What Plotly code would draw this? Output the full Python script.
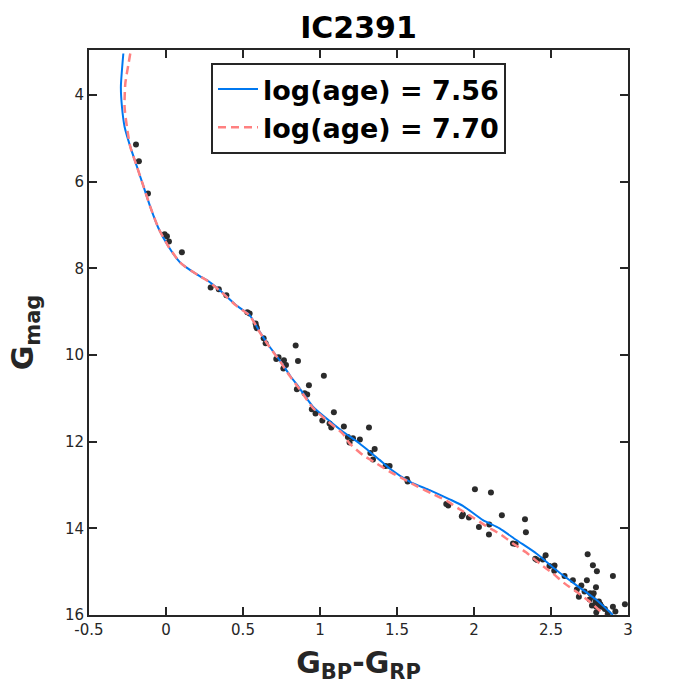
import plotly.graph_objects as go

# Observed stars (colour, G magnitude)
star_color = [-0.195, -0.176, -0.117, -0.009, 0.006, 0.019, 0.103,
              0.29, 0.343, 0.392, 0.528, 0.543, 0.582, 0.59, 0.586, 0.634, 0.647,
              0.842, 0.857, 0.716, 0.731, 0.766, 0.779, 0.762, 1.025, 0.928, 0.85,
              0.9, 0.917, 0.947, 0.971, 1.09, 1.015, 1.062, 1.073, 1.155, 1.318,
              1.181, 1.214, 1.192, 1.259, 1.355, 1.327, 1.344,
              1.426, 1.452, 1.564, 1.569, 1.833, 1.82, 2.006, 2.11, 1.921, 1.928,
              1.967, 2.181, 2.032, 2.099, 2.097, 2.331, 2.337, 2.253, 2.27, 2.398,
              2.41, 2.465, 2.447, 2.49, 2.523, 2.521, 2.588, 2.642, 2.738, 2.772,
              2.798, 2.733, 2.792, 2.902, 2.668, 2.681, 2.697, 2.718, 2.755, 2.777,
              2.769, 2.751, 2.79, 2.811, 2.82, 2.794, 2.829, 2.766, 2.794, 2.869,
              2.902, 2.918, 2.98, 2.85]
star_mag = [5.14, 5.53, 6.27, 7.21, 7.26, 7.38, 7.63,
            8.44, 8.48, 8.62, 9.01, 9.04, 9.27, 9.38, 9.34, 9.61, 9.73,
            9.78, 10.14, 10.09, 10.05, 10.12, 10.23, 10.31, 10.48, 10.70, 10.79,
            10.88, 10.91, 11.25, 11.35, 11.32, 11.51, 11.58, 11.67, 11.65, 11.67,
            11.89, 11.92, 12.02, 11.95, 12.17, 12.26, 12.41,
            12.56, 12.56, 12.86, 12.92, 13.47, 13.44, 13.10, 13.17, 13.72, 13.68,
            13.75, 13.70, 13.97, 13.91, 14.14, 13.79, 14.09, 14.35, 14.36, 14.70,
            14.73, 14.62, 14.72, 14.87, 14.86, 14.98, 15.10, 15.20, 14.60, 14.85,
            14.99, 15.20, 15.36, 15.10, 15.41, 15.58, 15.32, 15.46, 15.50, 15.50,
            15.58, 15.64, 15.69, 15.69, 15.75, 15.81, 15.81, 15.78, 15.94, 15.96,
            15.81, 15.92, 15.75, 15.86]

# Isochrone log(age) = 7.56
iso1_color = [-0.277, -0.293, -0.286, -0.269, -0.232, -0.189, -0.145, -0.102,
              -0.048, 0.017, 0.088, 0.125, 0.219, 0.266, 0.348, 0.456, 0.543,
              0.608, 0.673, 0.738, 0.803, 0.868, 0.954, 1.041, 1.149, 1.257,
              1.322, 1.387, 1.452, 1.582, 1.712, 1.842, 1.928, 2.058, 2.166,
              2.275, 2.405, 2.534, 2.664, 2.794, 2.902]
iso1_mag = [3.04, 3.81, 4.27, 4.73, 5.19, 5.65, 6.12, 6.58,
            7.08, 7.50, 7.85, 7.96, 8.18, 8.27, 8.50, 8.85, 9.08,
            9.46, 9.81, 10.12, 10.46, 10.77, 11.19, 11.46, 11.77, 12.04,
            12.23, 12.42, 12.62, 12.92, 13.12, 13.33, 13.48, 13.81, 14.00,
            14.27, 14.58, 14.96, 15.31, 15.65, 16.0]

# Isochrone log(age) = 7.70
iso2_color = [-0.232, -0.243, -0.264, -0.269, -0.254, -0.232, -0.189, -0.145,
              -0.102, -0.048, 0.017, 0.088, 0.125, 0.219, 0.266, 0.348, 0.456,
              0.543, 0.608, 0.673, 0.738, 0.803, 0.868, 0.954, 1.041, 1.149,
              1.192, 1.279, 1.366, 1.452, 1.538, 1.625, 1.734, 1.82, 1.906,
              1.993, 2.08, 2.177, 2.253, 2.34, 2.426, 2.512, 2.588, 2.664,
              2.751, 2.847]
iso2_mag = [3.04, 3.27, 3.73, 4.27, 4.73, 5.19, 5.65, 6.12,
            6.58, 7.08, 7.50, 7.85, 7.96, 8.18, 8.28, 8.51, 8.86,
            9.09, 9.47, 9.82, 10.13, 10.48, 10.79, 11.22, 11.50, 11.82,
            12.04, 12.31, 12.50, 12.69, 12.85, 13.02, 13.21, 13.36, 13.56,
            13.75, 13.95, 14.15, 14.35, 14.56, 14.81, 15.04, 15.27, 15.46,
            15.69, 16.0]

x_ticks = [-0.5, 0, 0.5, 1, 1.5, 2, 2.5, 3]
x_tick_text = ["-0.5", "0", "0.5", "1", "1.5", "2", "2.5", "3"]
y_ticks = [4, 6, 8, 10, 12, 14, 16]

axis_col = "#262626"

fig = go.Figure()
fig.add_trace(go.Scatter(x=star_color, y=star_mag, mode="markers",
                         marker=dict(color="#2b2b2b", size=6),
                         showlegend=False))
fig.add_trace(go.Scatter(x=iso1_color, y=iso1_mag, mode="lines",
                         name="log(age) = 7.56",
                         line=dict(color="#0078f0", width=2, shape="spline", smoothing=0.6)))
fig.add_trace(go.Scatter(x=iso2_color, y=iso2_mag, mode="lines",
                         name="log(age) = 7.70",
                         line=dict(color="#ff8080", width=2.5, dash="8px,5px",
                                   shape="spline", smoothing=0.6)))

axis_common = dict(showgrid=False, zeroline=False, showline=True, linecolor=axis_col,
                   linewidth=2, mirror="ticks", ticks="inside", ticklen=8,
                   tickwidth=1.5, tickcolor=axis_col,
                   tickfont=dict(family="DejaVu Sans", size=15, color=axis_col))

fig.update_layout(
    width=694, height=694,
    margin=dict(l=89, r=66, t=50, b=79),
    plot_bgcolor="white", paper_bgcolor="white",
    title=dict(text="<b>IC2391</b>", x=0.5, xref="paper", xanchor="center",
               y=0.96, yanchor="middle",
               font=dict(family="DejaVu Sans", size=30, color="black")),
    xaxis=dict(range=[-0.5, 3], tickvals=x_ticks, ticktext=x_tick_text,
               title=dict(text="<b>G<sub>BP</sub>-G<sub>RP</sub></b>", standoff=14,
                          font=dict(family="DejaVu Sans", size=30, color=axis_col)),
               **axis_common),
    yaxis=dict(range=[16, 2.96], tickvals=y_ticks,
               title=dict(text="<b>G<sub>mag</sub></b>", standoff=22,
                          font=dict(family="DejaVu Sans", size=30, color=axis_col)),
               **axis_common),
    legend=dict(x=0.5, y=0.977, xanchor="center", yanchor="top",
                bgcolor="white", bordercolor=axis_col, borderwidth=2,
                font=dict(family="DejaVu Sans", size=27, color="black", weight="bold"),
                tracegroupgap=0, itemwidth=40),
)

fig.write_html("out.html")
